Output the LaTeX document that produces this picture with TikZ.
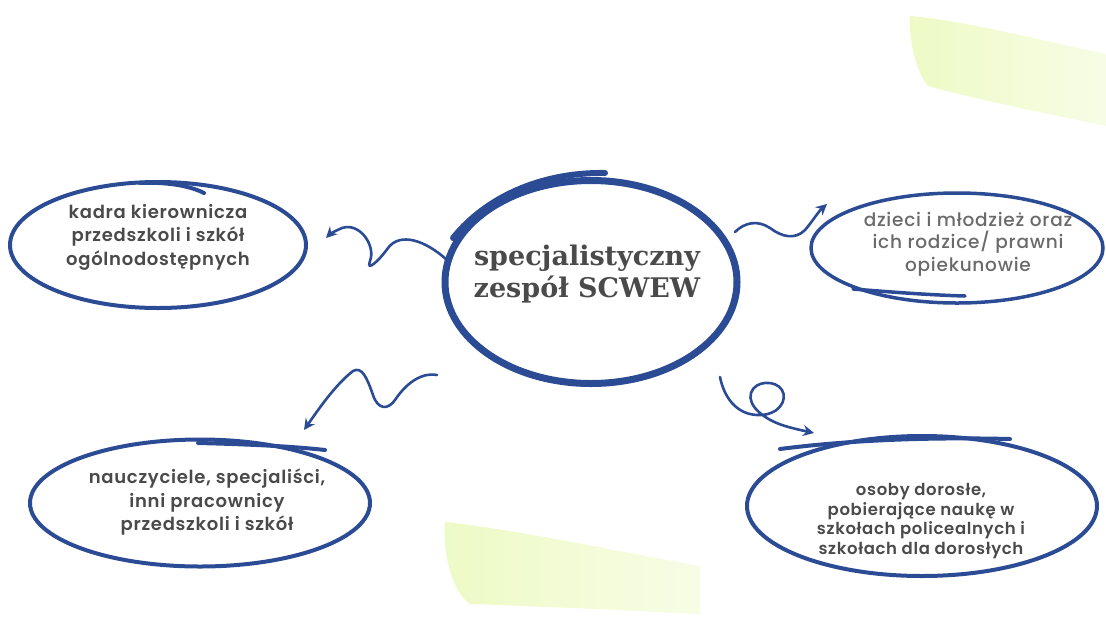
\documentclass[tikz,border=0pt]{standalone}
\usepackage{fontspec}
\setmainfont{Poppins}
\IfFontExistsTF{Poppins SemiBold}
  {\newfontfamily\semi{Poppins SemiBold}[LetterSpace=4]}
  {\newfontfamily\semi{Poppins}[LetterSpace=4,FakeBold=1.2]}
\IfFontExistsTF{Poppins Medium}
  {\newfontfamily\medi{Poppins Medium}[LetterSpace=4]}
  {\newfontfamily\medi{Poppins}[LetterSpace=4,FakeBold=0.6]}
\newfontfamily\titlefont{DejaVu Serif}
\usetikzlibrary{shapes.geometric,arrows.meta}
\definecolor{bl}{HTML}{2B4C94}
\definecolor{txt}{HTML}{4A4A4A}
\definecolor{txtl}{HTML}{6A6A6A}
\definecolor{lime}{HTML}{EEFAC6}
\tikzset{
  oval/.style={draw=bl, line width=4pt, ellipse, inner sep=0pt},
  extra/.style={draw=bl, line width=4pt, line cap=round},
  conn/.style={draw=bl, line width=2.6pt, line cap=round, -{Stealth[length=11pt,width=11pt]}},
  lbl/.style={align=center, text=txt, font=\semi\fontsize{18}{23.5}\selectfont},
  lbls/.style={align=center, text=txt, font=\semi\fontsize{16.5}{19.5}\selectfont},
  lbll/.style={align=center, text=txtl, font=\medi\fontsize{18.5}{22.5}\selectfont},
  ttl/.style={align=center, text=txt, font=\titlefont\bfseries\fontsize{27}{32}\selectfont},
  brush/.style={draw=none, left color=lime, right color=lime!45}
}
\begin{document}
\begin{tikzpicture}[x=1pt,y=-1pt]
\useasboundingbox (0,0) rectangle (1106,633);
% light green brush strokes
\shade[brush] (910,16) .. controls (960,20) and (1040,40) .. (1106,54) -- (1106,126) .. controls (1040,112) and (970,98) .. (928,86) .. controls (915,70) and (909,40) .. (910,16) -- cycle;
\shade[brush] (445,522) .. controls (520,530) and (620,552) .. (700,566) -- (700,614) .. controls (620,610) and (530,606) .. (470,604) .. controls (450,590) and (443,550) .. (445,522) -- cycle;

% ellipses
\node[oval, minimum width=296pt, minimum height=126pt] (kadra) at (158,245) {};
\node[oval, line width=7pt, minimum width=292pt, minimum height=203pt] (cen) at (591,282) {};
\node[oval, line width=3.5pt, minimum width=292pt, minimum height=110pt] (dz) at (957,248) {};
\node[oval, minimum width=340pt, minimum height=127pt] (nau) at (200,503) {};
\node[oval, minimum width=350pt, minimum height=140pt] (os) at (922,506) {};

% overshoot strokes of the hand drawn ovals
\draw[extra] (140,183) .. controls (165,182) and (188,185) .. (204,193);
\draw[extra, line width=6pt] (453,238) .. controls (485,198) and (540,172) .. (605,173);
\draw[extra, line width=3.5pt] (853,289) .. controls (890,292) and (930,295) .. (965,296);
\draw[extra] (198,443) .. controls (240,444) and (290,446) .. (325,450);
\draw[extra] (780,449) .. controls (850,440) and (930,437) .. (1010,439);

% texts
\node[ttl] (cenT) at (587,274) {specjalistyczny\\zespół SCWEW};
\node[lbl] (kadraT) at (158,237) {kadra kierownicza\\przedszkoli i szkół\\ogólnodostępnych};
\node[lbll] (dzT) at (968,244) {dzieci i młodzież oraz\\ich rodzice/ prawni\\opiekunowie};
\node[lbl] (nauT) at (207,502) {nauczyciele, specjaliści,\\inni pracownicy\\przedszkoli i szkół};
\node[lbls] (osT) at (921,521) {osoby dorosłe,\\pobierające naukę w\\szkołach policealnych i\\szkołach dla dorosłych};

% connector ends
\coordinate (a1s) at (447,260);
\coordinate (a1e) at (326,238);
\coordinate (a2s) at (735,232);
\coordinate (a2e) at (827,204);
\coordinate (a3s) at (437,375);
\coordinate (a3e) at (304,430);
\coordinate (a4s) at (720,377);
\coordinate (a4e) at (814,433);

% connectors
\draw[conn] (a1s) .. controls (425,240) and (400,232) .. (388,248)
  .. controls (378,262) and (366,272) .. (370,261)
  .. controls (376,246) and (360,222) .. (342,228)
  .. controls (335,231) and (330,234) .. (a1e);
\draw[conn] (a2s) .. controls (745,222) and (758,220) .. (770,228)
  .. controls (782,237) and (795,240) .. (805,230)
  .. controls (812,222) and (818,212) .. (a2e);
\draw[conn] (a3s) .. controls (420,372) and (405,385) .. (395,400)
  .. controls (388,410) and (378,410) .. (373,395)
  .. controls (367,378) and (362,366) .. (353,371)
  .. controls (335,385) and (318,410) .. (a3e);
\draw[conn] (a4s) .. controls (724,397) and (736,414) .. (757,415)
  .. controls (779,416) and (788,400) .. (782,390)
  .. controls (776,380) and (755,380) .. (751,393)
  .. controls (747,406) and (765,420) .. (785,426)
  .. controls (795,429) and (805,431) .. (a4e);
\end{tikzpicture}
\end{document}
